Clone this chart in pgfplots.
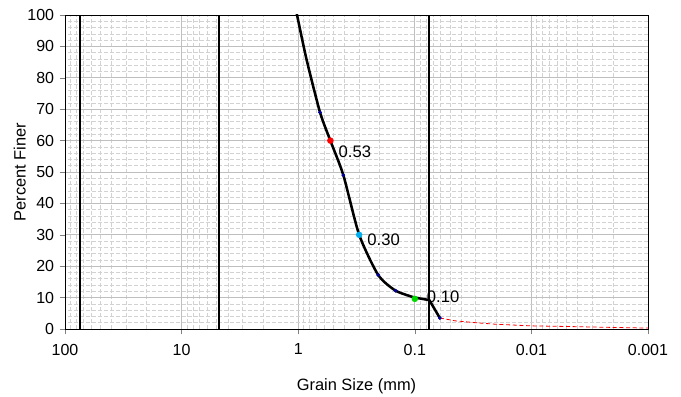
\documentclass[border=0pt]{standalone}
\usepackage{pgfplots}
\pgfplotsset{compat=1.18}
\usepackage{fontspec}
\setmainfont{Liberation Sans}
\begin{document}
\fontsize{12}{14}\selectfont
\begin{tikzpicture}
\path[use as bounding box] (-48.75pt,-50.25pt) rectangle (462pt,246.75pt);
\begin{axis}[
  at={(0,0)}, anchor=south west, scale only axis,
  width=437.25pt, height=235.5pt,
  xmode=log, x dir=reverse,
  xmin=0.001, xmax=100, ymin=0, ymax=100,
  xtick={0.001,0.01,0.1,1,10,100},
  xticklabels={0.001,0.01,0.1,1,10,100},
  ytick={0,10,...,100},
  minor y tick num=4,
  grid=both,
  major grid style={gray!50, line width=0.6pt},
  minor grid style={gray!35, dash pattern=on 3pt off 1.5pt, line width=0.5pt},
  tick align=outside, tick pos=left,
  major tick length=4pt, minor tick length=0pt,
  axis line style={black, line width=0.6pt},
  /pgf/number format/assume math mode=true,
  ticklabel style={font=\fontsize{12}{14}\selectfont},
  xticklabel style={yshift=-3pt},
  xlabel={Grain Size (mm)}, ylabel={Percent Finer},
  label style={font=\fontsize{12.3}{14}\selectfont},
  xlabel style={yshift=-9pt},
  ylabel style={yshift=-7pt},
  clip=true,
]
% sieve boundary lines
\addplot[black, line width=1.4pt] coordinates {(75,0) (75,100)};
\addplot[black, line width=1.4pt] coordinates {(4.75,0) (4.75,100)};
\addplot[black, line width=1.4pt] coordinates {(0.075,0) (0.075,100)};
% hydrometer (red dashed)
\addplot[red, densely dashed, line width=0.6pt] coordinates {
 (0.061,3.5) (0.045,2.6) (0.03,2.0) (0.02,1.5) (0.01,1.0) (0.005,0.8) (0.002,0.5) (0.001,0.3)};
% fitted curve
\addplot[black, line width=1.9pt, smooth, tension=0.4, line cap=round] coordinates {
 (1.05,102) (0.85,86) (0.65,69) (0.53,60) (0.41,49) (0.30,30) (0.206,17.2) (0.146,12.2) (0.10,10.0)};
\addplot[black, line width=1.9pt, line join=round, line cap=round] coordinates {
 (0.10,10.0) (0.075,9.2) (0.061,3.5)};
% data points
\addplot[only marks, mark=*, mark size=1.2pt, color=blue!60!black] coordinates {
 (0.65,69) (0.41,49) (0.206,17.2) (0.146,12.2) (0.061,3.5)};
\addplot[only marks, mark=*, mark size=2.2pt, color=red,
  nodes near coords, point meta=explicit symbolic,
  every node near coord/.style={anchor=west, xshift=2pt, yshift=-8pt, text=black, font=\fontsize{12.5}{14}\selectfont}]
  coordinates {(0.53,60) [0.53]};
\addplot[only marks, mark=*, mark size=2.2pt, color=cyan,
  nodes near coords, point meta=explicit symbolic,
  every node near coord/.style={anchor=west, xshift=2pt, yshift=-4pt, text=black, font=\fontsize{12.5}{14}\selectfont}]
  coordinates {(0.30,30) [0.30]};
\addplot[only marks, mark=*, mark size=2.2pt, color=green!85!black]
  coordinates {(0.10,9.6)};
\addplot[only marks, mark=none,
  nodes near coords, point meta=explicit symbolic,
  every node near coord/.style={anchor=west, xshift=-5pt, yshift=1pt, text=black, font=\fontsize{12.5}{14}\selectfont}]
  coordinates {(0.077,10) [0.10]};
\end{axis}
\end{tikzpicture}
\end{document}
